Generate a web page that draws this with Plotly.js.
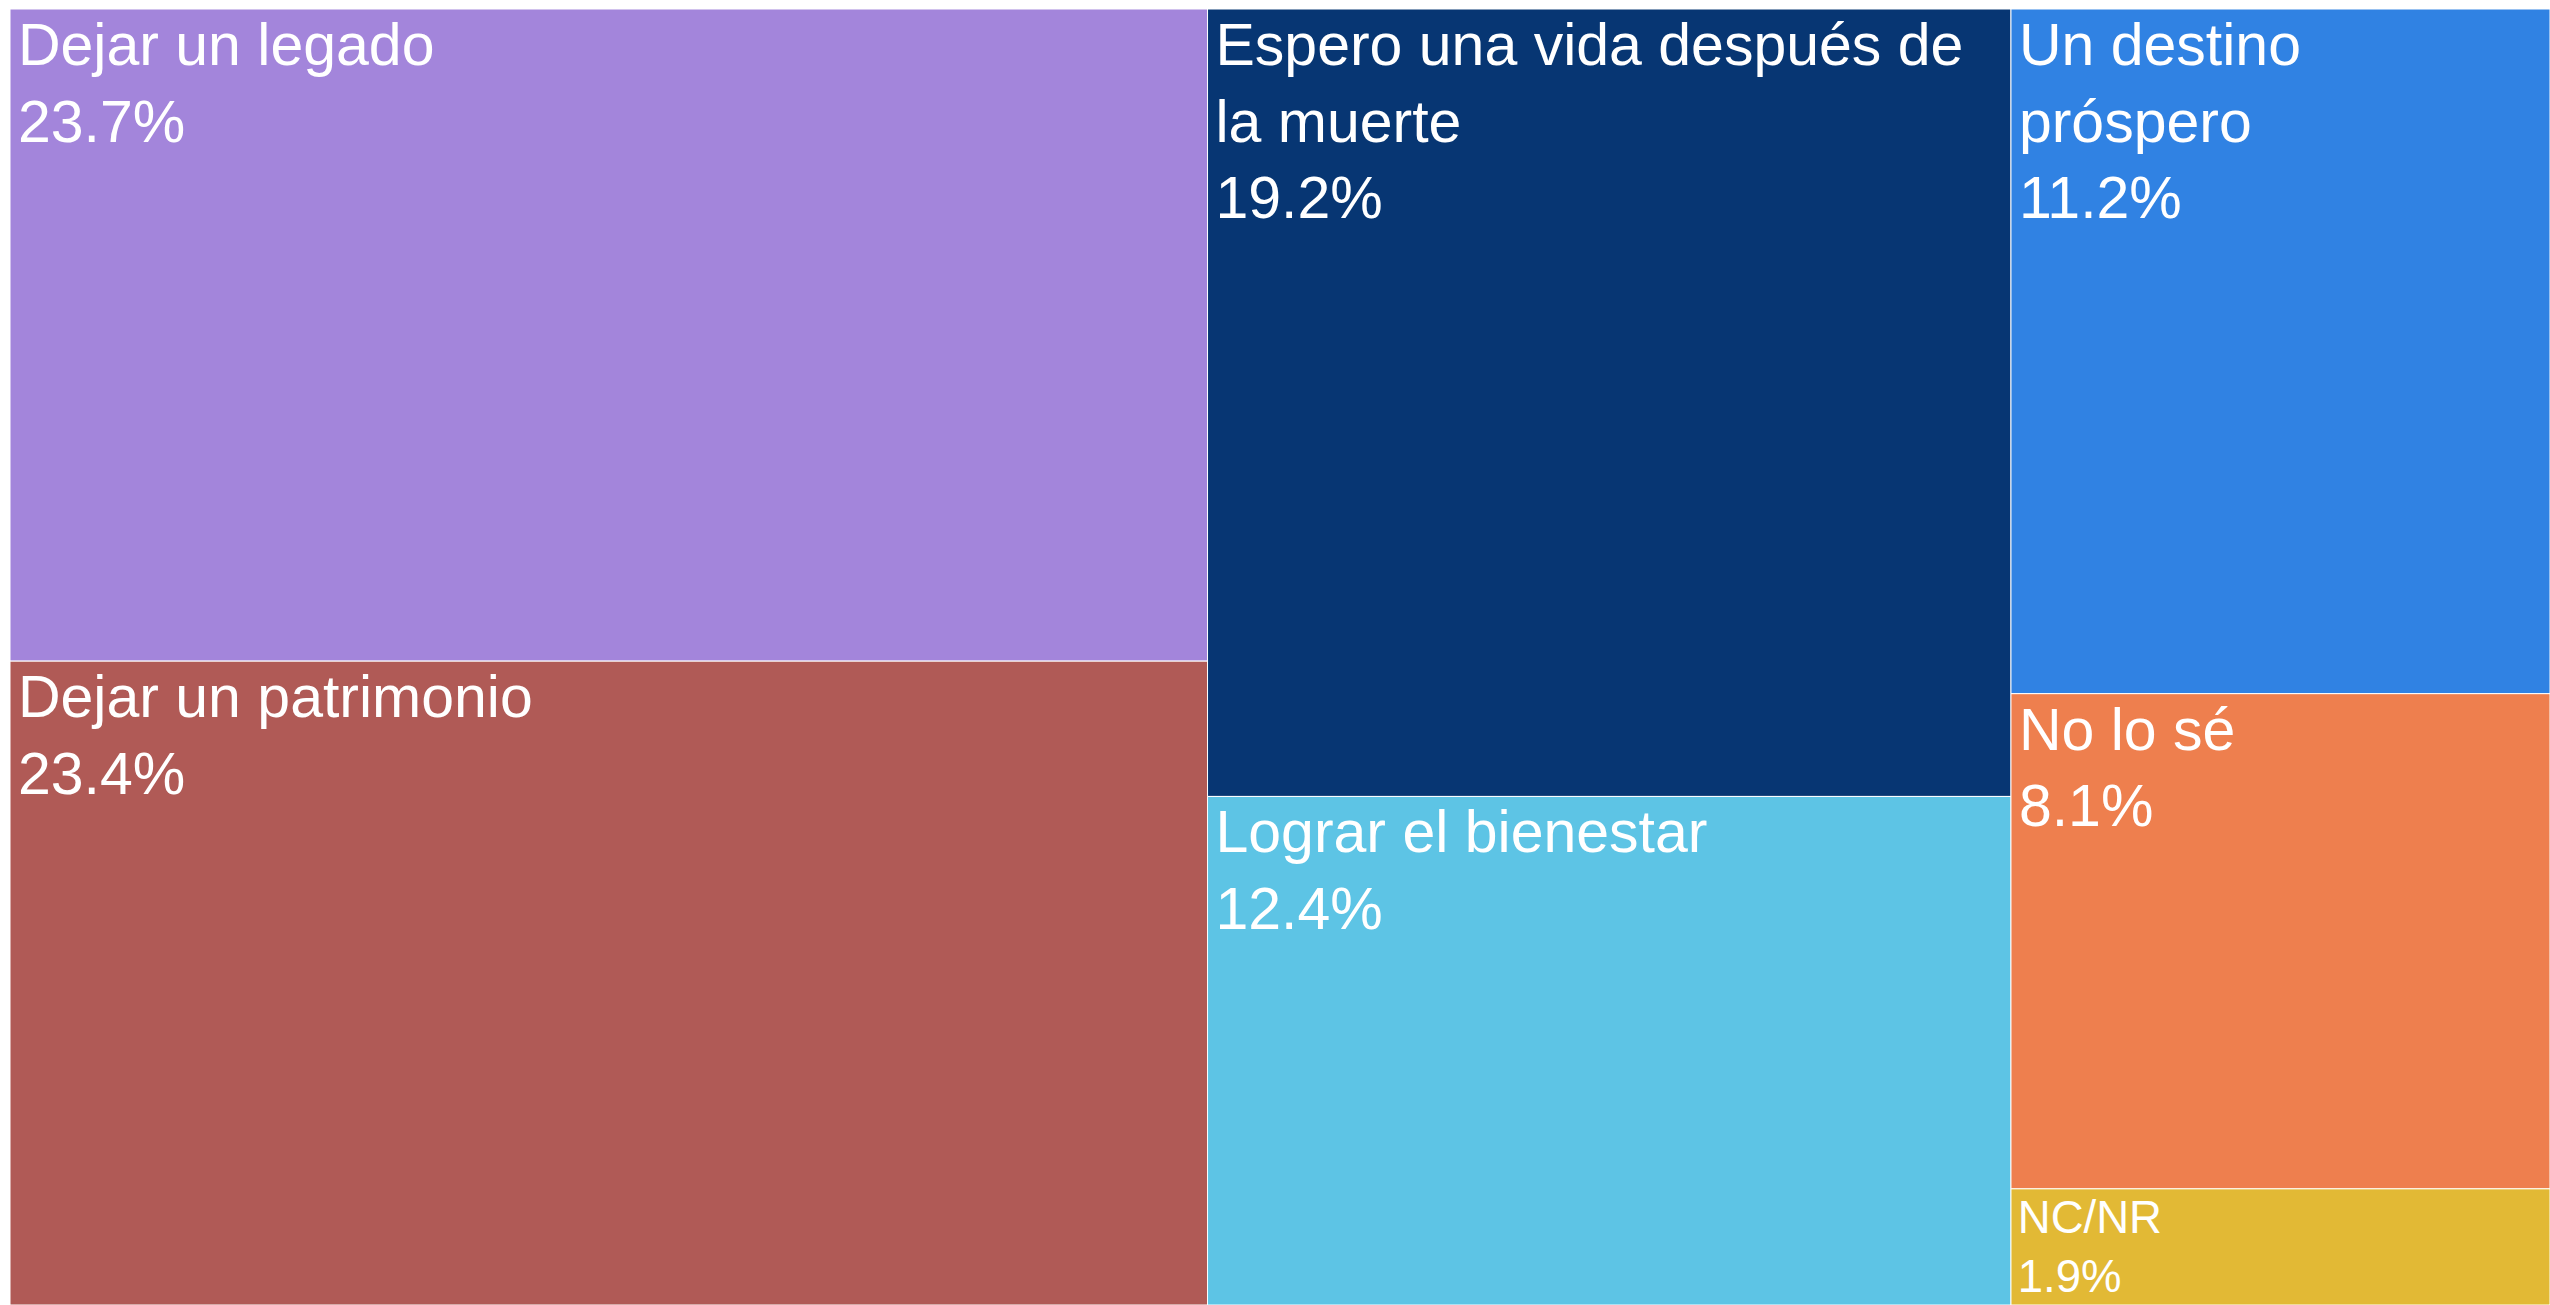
<!DOCTYPE html>
<html>
<head>
<meta charset="utf-8">
<script src="https://cdn.plot.ly/plotly-3.0.1.min.js"></script>
<style>
  html, body { margin: 0; padding: 0; background: #fff; }
  #chart { width: 2550px; height: 1305px; }
</style>
</head>
<body>
<div id="chart"></div>
<script>
const labels = ['Dejar un legado', 'Dejar un patrimonio', 'Espero una vida después de la muerte',
  'Lograr el bienestar', 'Un destino próspero', 'No lo sé', 'NC/NR'];
// wrapped versions of the labels, as shown inside the tiles
const shownLabels = ['Dejar un legado', 'Dejar un patrimonio', 'Espero una vida después de<br>\u200Ala muerte',
  'Lograr el bienestar', 'Un destino<br>\u200Apróspero', 'No lo sé', 'NC/NR'];
const values = [23.7, 23.4, 19.2, 12.4, 11.2, 8.1, 1.9];
const colors = ['#A385DB', '#B05A56', '#073673', '#5DC4E5', '#3082E3', '#EE7F4E', '#E2B935'];

const data = [{
  type: 'treemap',
  labels: labels,
  parents: labels.map(() => ''),
  values: values,
  customdata: shownLabels,
  texttemplate: '\u200A%{customdata}<br>\u200A%{value:.1f}%',
  textposition: 'top left',
  textfont: { family: 'Liberation Sans, Arial, sans-serif', size: 59, color: '#ffffff' },
  marker: { colors: colors, line: { color: '#ffffff', width: 1 }, pad: { t: 0, l: 0, r: 0, b: 0 } },
  tiling: { packing: 'squarify', pad: 0 },
  pathbar: { visible: false },
  hoverinfo: 'none'
}];

const layout = {
  margin: { l: 10, r: 0, t: 9, b: 0 },
  paper_bgcolor: '#ffffff',
  width: 2550,
  height: 1305
};

Plotly.newPlot('chart', data, layout, { displayModeBar: false });
</script>
</body>
</html>
